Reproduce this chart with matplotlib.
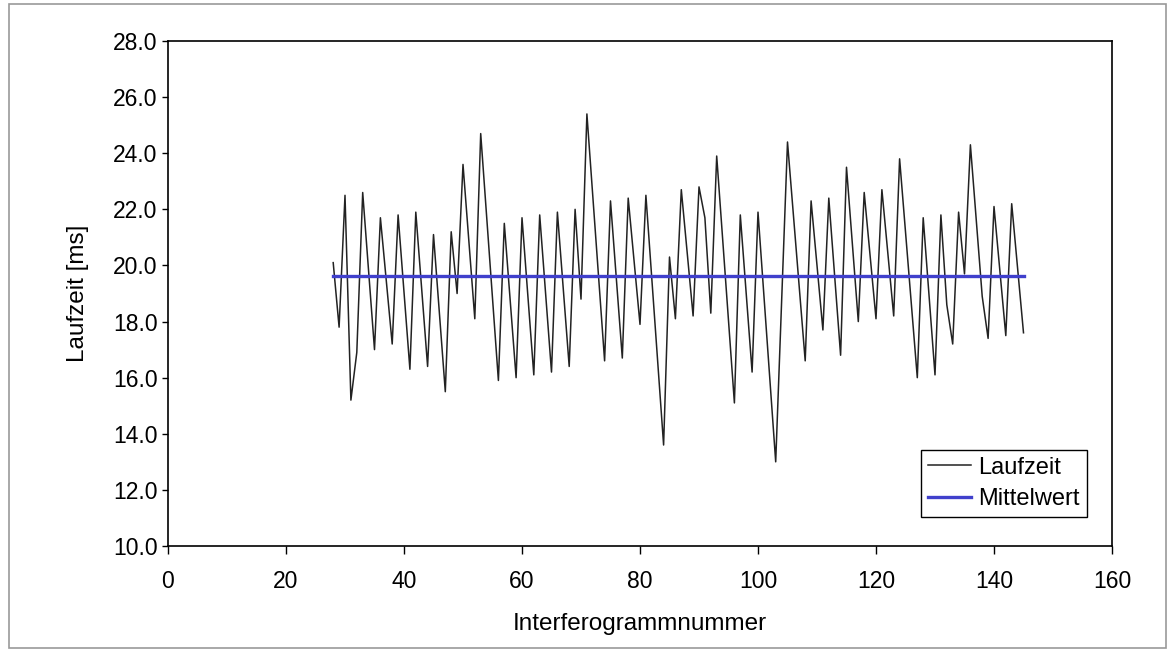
import matplotlib
matplotlib.use("Agg")
import matplotlib.pyplot as plt
from matplotlib.patches import Rectangle

plt.rcParams['font.family'] = ['Liberation Sans', 'DejaVu Sans']

# Laufzeit vertices (Interferogrammnummer, ms)
x_laufzeit = [28, 29, 30, 31, 32, 33, 35, 36, 38, 39, 41, 42, 44, 45, 47, 48, 49, 50,
              52, 53, 56, 57, 59, 60, 62, 63, 65, 66, 68, 69, 70, 71, 74, 75, 77, 78,
              80, 81, 84, 85, 86, 87, 89, 90, 91, 92, 93, 96, 97, 99, 100, 103, 105,
              108, 109, 111, 112, 114, 115, 117, 118, 120, 121, 123, 124, 127, 128,
              130, 131, 132, 133, 134, 135, 136, 138, 139, 140, 142, 143, 145]
y_laufzeit = [20.1, 17.8, 22.5, 15.2, 16.9, 22.6, 17.0, 21.7, 17.2, 21.8, 16.3, 21.9,
              16.4, 21.1, 15.5, 21.2, 19.0, 23.6, 18.1, 24.7, 15.9, 21.5, 16.0, 21.7,
              16.1, 21.8, 16.2, 21.9, 16.4, 22.0, 18.8, 25.4, 16.6, 22.3, 16.7, 22.4,
              17.9, 22.5, 13.6, 20.3, 18.1, 22.7, 18.2, 22.8, 21.7, 18.3, 23.9, 15.1,
              21.8, 16.2, 21.9, 13.0, 24.4, 16.6, 22.3, 17.7, 22.4, 16.8, 23.5, 18.0,
              22.6, 18.1, 22.7, 18.2, 23.8, 16.0, 21.7, 16.1, 21.8, 18.6, 17.2, 21.9,
              19.7, 24.3, 18.9, 17.4, 22.1, 17.5, 22.2, 17.6]

# Mittelwert (constant mean line)
x_mittel = [28, 145]
y_mittel = [19.62, 19.62]

x_ticks = [0, 20, 40, 60, 80, 100, 120, 140, 160]
y_ticks = [10.0, 12.0, 14.0, 16.0, 18.0, 20.0, 22.0, 24.0, 26.0, 28.0]

fig = plt.figure(figsize=(11.71, 6.52), dpi=100)
fig.patches.append(Rectangle((9/1171, 4/652), (1166-9)/1171, (648-4)/652,
                             transform=fig.transFigure, fill=False,
                             edgecolor='#999999', linewidth=1.2))
ax = fig.add_axes([168/1171, 1-546/652, (1112-168)/1171, (546-41)/652])

ax.plot(x_laufzeit, y_laufzeit, color='#222222', linewidth=1.1, label='Laufzeit')
ax.plot(x_mittel, y_mittel, color='#4040cc', linewidth=2.4, label='Mittelwert')

ax.set_xlim(0, 160)
ax.set_ylim(10, 28)
ax.set_xticks(x_ticks)
ax.set_yticks(y_ticks)
ax.set_yticklabels([f"{v:.1f}" for v in y_ticks])
ax.tick_params(axis='both', direction='out', width=1.0,
               labelsize=16.5, colors='black')
ax.tick_params(axis='x', length=5.5, pad=12)
ax.tick_params(axis='y', length=4, pad=3.5)
for s in ax.spines.values():
    s.set_color('black')
    s.set_linewidth(1.2)

ax.set_xlabel('Interferogrammnummer', fontsize=17.5, labelpad=14)
ax.set_ylabel('Laufzeit [ms]', fontsize=17.5, labelpad=17)

leg = ax.legend(loc='lower right', bbox_to_anchor=(0.9735, 0.057), fontsize=17,
                frameon=True, fancybox=False, framealpha=1, edgecolor='black',
                handlelength=1.85, handletextpad=0.3, borderpad=0.3,
                labelspacing=0.4, borderaxespad=0)
leg.get_frame().set_linewidth(1.0)

fig.savefig('out.png', dpi=100)
